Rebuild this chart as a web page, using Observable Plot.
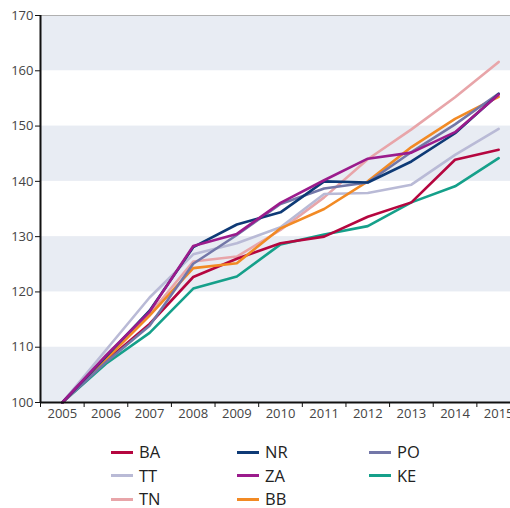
<!DOCTYPE html>
<html>
<head>
<meta charset="utf-8">
<script src="https://cdn.jsdelivr.net/npm/d3@7"></script>
<script src="https://cdn.jsdelivr.net/npm/@observablehq/plot@0.6"></script>
<style>
  html, body { margin: 0; padding: 0; background: #fff; overflow: hidden; }
  #chart { width: 510px; height: 425px; overflow: hidden; }
  #chart svg { max-width: none !important; }
  #legend {
    display: grid;
    grid-template-columns: 126px 132px 110px;
    grid-auto-rows: 18px;
    row-gap: 5.5px;
    margin-left: 111px;
    margin-top: 18px;
    font-family: "Open Sans", "Noto Sans", sans-serif;
    font-size: 16.5px;
    line-height: 18px;
    color: #222;
  }
  .item { display: flex; align-items: center; height: 18px; }
  .sw { width: 22px; height: 3px; margin-right: 6px; }
</style>
</head>
<body>
<div id="chart"></div>
<div id="legend"></div>
<script>
const years = [2005, 2006, 2007, 2008, 2009, 2010, 2011, 2012, 2013, 2014, 2015];
const names = ["BA", "NR", "PO", "TT", "ZA", "KE", "TN", "BB"];
const colors = ["#b5063f", "#0e3a76", "#7377a8", "#b9bad6", "#9b1b8c", "#15a08a", "#e8a5a9", "#f28a24"];

const BA = [100, 107.5, 114.2, 122.7, 126.0, 128.8, 130.0, 133.6, 136.2, 143.9, 145.7];
const NR = [100, 108.3, 116.6, 128.1, 132.2, 134.4, 140.0, 139.8, 143.6, 148.7, 155.8];
const PO = [100, 107.3, 113.9, 125.1, 130.3, 135.9, 138.7, 139.8, 145.3, 150.3, 155.9];
const TT = [100, 109.5, 119.0, 126.8, 128.8, 131.7, 137.7, 137.9, 139.4, 144.8, 149.5];
const ZA = [100, 108.5, 116.4, 128.3, 130.5, 136.1, 140.2, 144.1, 145.2, 148.9, 155.7];
const KE = [100, 107.0, 112.6, 120.6, 122.8, 128.6, 130.4, 131.9, 136.2, 139.1, 144.2];
const TN = [100, 108.0, 116.0, 125.5, 126.4, 131.2, 137.1, 144.0, 149.4, 155.2, 161.6];
const BB = [100, 107.8, 115.7, 124.3, 125.2, 131.5, 135.0, 140.0, 146.2, 151.3, 155.3];

const yTicks = [100, 110, 120, 130, 140, 150, 160, 170];
const bands = [[100, 110], [120, 130], [140, 150], [160, 170]];

const seriesValues = {BA, NR, PO, TT, ZA, KE, TN, BB};
const data = names.flatMap(n => seriesValues[n].map((v, i) => ({name: n, year: years[i], value: v})));
const drawOrder = ["TN", "TT", "KE", "BA", "BB", "PO", "NR", "ZA"];
const ordered = drawOrder.flatMap(n => data.filter(d => d.name === n));
const boundaries = years.map(y => y - 0.5).concat([years[years.length - 1] + 0.5]);

const chart = Plot.plot({
  width: 520,
  height: 425,
  marginLeft: 40,
  marginRight: 0,
  marginTop: 15,
  marginBottom: 23,
  style: {fontFamily: "'Open Sans', 'Noto Sans', sans-serif", fontSize: "13px", color: "#444", background: "#fff", maxWidth: "none"},
  x: {type: "linear", domain: [boundaries[0], boundaries[boundaries.length - 1]], label: null},
  y: {domain: [100, 170], label: null},
  color: {domain: names, range: colors},
  marks: [
    Plot.rectY(bands, {y1: d => d[0], y2: d => d[1], fill: "#e8ecf3"}),
    Plot.ruleY([170], {stroke: "#b0b0b0", strokeWidth: 1.2}),
    Plot.line(ordered, {x: "year", y: "value", z: "name", stroke: "name", strokeWidth: 2.6, strokeLinejoin: "miter"}),
    Plot.axisY({ticks: yTicks, tickSize: 5, tickPadding: 2, stroke: "#111", fill: "#444", label: null}),
    Plot.axisX({ticks: years, tickSize: 0, tickPadding: 6, tickFormat: d => String(d), fill: "#444", label: null}),
    Plot.axisX({ticks: boundaries, tickSize: 5, tickFormat: () => "", stroke: "#111", label: null}),
    Plot.ruleY([100], {stroke: "#111", strokeWidth: 2}),
    Plot.ruleX([boundaries[0]], {stroke: "#111", strokeWidth: 2})
  ]
});
document.getElementById("chart").appendChild(chart);

const legend = document.getElementById("legend");
names.forEach((n, i) => {
  const item = document.createElement("div");
  item.className = "item";
  const sw = document.createElement("span");
  sw.className = "sw";
  sw.style.background = colors[i];
  const t = document.createElement("span");
  t.textContent = n;
  item.appendChild(sw);
  item.appendChild(t);
  legend.appendChild(item);
});
</script>
</body>
</html>
